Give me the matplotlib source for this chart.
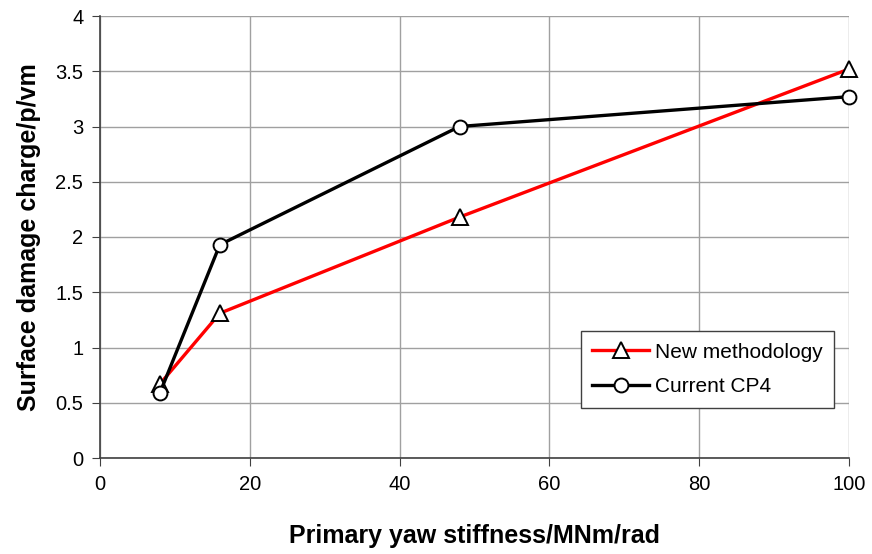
import matplotlib
matplotlib.use("Agg")
import matplotlib.pyplot as plt

plt.rcParams['font.family'] = ['Liberation Sans', 'DejaVu Sans']

x_new = [8, 16, 48, 100]
y_new = [0.67, 1.31, 2.18, 3.52]
x_cp4 = [8, 16, 48, 100]
y_cp4 = [0.59, 1.93, 3.0, 3.27]
xticks = [0, 20, 40, 60, 80, 100]
yticks = [0, 0.5, 1, 1.5, 2, 2.5, 3, 3.5, 4]
yticklabels = ['0', '0.5', '1', '1.5', '2', '2.5', '3', '3.5', '4']

fig = plt.figure(figsize=(8.72, 5.54), dpi=100)
ax = fig.add_axes([100/872, 1-458/554, 749/872, 442/554])

ax.plot(x_new, y_new, color='#ff0000', lw=2.4, marker='^', ms=11,
        mfc='white', mec='black', mew=1.4, label='New methodology', zorder=3, clip_on=False)
ax.plot(x_cp4, y_cp4, color='black', lw=2.4, marker='o', ms=10,
        mfc='white', mec='black', mew=1.4, label='Current CP4', zorder=4, clip_on=False)

ax.set_xlim(0, 100)
ax.set_ylim(0, 4)
ax.set_xticks(xticks)
ax.set_yticks(yticks)
ax.set_yticklabels(yticklabels)
ax.grid(True, color='#a0a0a0', lw=1)
ax.set_axisbelow(True)
for s in ['top', 'right']:
    ax.spines[s].set_visible(False)
for s in ['left', 'bottom']:
    ax.spines[s].set_color('#404040')
    ax.spines[s].set_linewidth(1.2)
ax.tick_params(labelsize=14.5, direction='out', length=6, color='#404040', pad=6)

ax.set_xlabel('Primary yaw stiffness/MNm/rad', fontsize=18, fontweight='bold', labelpad=22)
ax.set_ylabel('Surface damage charge/p/vm', fontsize=18, fontweight='bold', labelpad=10)

leg = ax.legend(loc='lower right', bbox_to_anchor=(0.994, 0.09), fontsize=15,
                frameon=True, fancybox=False, edgecolor='#404040', framealpha=1,
                handlelength=2.7, handletextpad=0.3, borderpad=0.55, labelspacing=0.75)
leg.get_frame().set_linewidth(1.0)

fig.savefig('out.png', dpi=100)
